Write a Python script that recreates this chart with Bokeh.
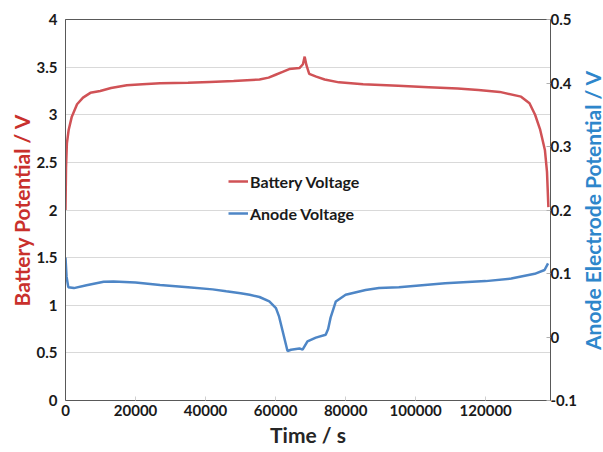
import math
from bokeh.plotting import figure
from bokeh.layouts import row
from bokeh.models import (LinearAxis, Range1d, FixedTicker, CustomJSTickFormatter,
                          Legend, LegendItem)
from bokeh.core.properties import value
from bokeh.embed import file_html
from bokeh.resources import INLINE

# ---- data ----
battery_t = [0, 150, 400, 900, 1800, 3300, 5000, 7100, 9900, 13000, 17500, 22000,
             27000, 35000, 41200, 48000, 55400, 58000, 60000, 62000, 63900, 66800,
             67800, 68300, 68800, 69600, 71600, 74000, 78100, 85000, 95000, 103700,
             112000, 117900, 124000, 130100, 132500, 134100, 135500, 136900, 137500,
             137900]
battery_v = [2.00, 2.45, 2.70, 2.84, 2.98, 3.11, 3.18, 3.23, 3.25, 3.28, 3.31, 3.32,
             3.33, 3.335, 3.345, 3.355, 3.37, 3.39, 3.42, 3.45, 3.48, 3.49,
             3.53, 3.61, 3.52, 3.43, 3.40, 3.37, 3.34, 3.32, 3.305, 3.29,
             3.275, 3.26, 3.24, 3.19, 3.12, 3.00, 2.85, 2.63, 2.40,
             2.03]

anode_t = [0, 300, 800, 2400, 6000, 10900, 13700, 20000, 27000, 35000, 42000, 45900,
           50000, 52600, 55400, 58200, 60100, 61000, 62000, 63400, 64400, 66800,
           67700, 69100, 71500, 74300, 75000, 75700, 77200, 80000, 85700, 89500,
           95200, 108400, 120000, 127300, 134000, 136800, 137800]
anode_v = [0.125, 0.095, 0.0785, 0.077, 0.0815, 0.087, 0.0875, 0.086, 0.082, 0.0785,
           0.075, 0.072, 0.069, 0.0665, 0.063, 0.056, 0.0455, 0.032, 0.0095, -0.022,
           -0.020, -0.018, -0.020, -0.007, -0.001, 0.0035, 0.0125, 0.0305, 0.056,
           0.0665, 0.074, 0.077, 0.0785, 0.0845, 0.088, 0.092, 0.0995, 0.1055, 0.116]

x_ticks = [0, 20000, 40000, 60000, 80000, 100000, 120000]
left_ticks = [0, 0.5, 1, 1.5, 2, 2.5, 3, 3.5, 4]
right_ticks = [-0.1, 0, 0.1, 0.2, 0.3, 0.4, 0.5]

X_MAX = 138500
RED = "#D05256"
BLUE = "#4E86C6"
LABEL_RED = "#C9302C"
LABEL_BLUE = "#2E86CB"
AXIS_COL = "#595959"
FONT = "Lato"
TICK_SIZE = "15px"
LABEL_SIZE = "21px"

fmt = CustomJSTickFormatter(code="return Number(tick.toFixed(2)).toString();")

p = figure(width=580, height=452, x_range=Range1d(0, X_MAX), y_range=Range1d(0, 4),
           output_backend="svg", toolbar_location=None,
           min_border_left=65, min_border_right=29, min_border_top=19, min_border_bottom=52)
p.extra_y_ranges = {"anode": Range1d(-0.1, 0.5)}

p.background_fill_color = "white"
p.border_fill_color = "white"
p.outline_line_color = AXIS_COL
p.outline_line_width = 1

p.xgrid.visible = False
p.ygrid.grid_line_color = "#D9D9D9"
p.ygrid.grid_line_width = 1
p.ygrid.ticker = FixedTicker(ticks=left_ticks)

r1 = p.line(battery_t, battery_v, line_color=RED, line_width=2.5)
r2 = p.line(anode_t, anode_v, line_color=BLUE, line_width=2.5, y_range_name="anode")

# bottom axis
xa = p.xaxis[0]
xa.ticker = FixedTicker(ticks=x_ticks)
xa.formatter = fmt
xa.axis_label = "Time / s"
xa.axis_label_text_font = FONT
xa.axis_label_text_font_style = "bold"
xa.axis_label_text_font_size = LABEL_SIZE
xa.axis_label_text_color = "#262626"
xa.axis_label_standoff = 3
xa.major_label_text_font = FONT
xa.major_label_text_font_style = "bold"
xa.major_label_text_font_size = TICK_SIZE
xa.major_label_text_color = "#1a1a1a"
xa.major_label_standoff = 4
xa.axis_line_color = AXIS_COL
xa.major_tick_in = 4
xa.major_tick_out = 0
xa.major_tick_line_color = "#D0D0D0"
xa.minor_tick_line_color = None

# left axis
ya = p.yaxis[0]
ya.ticker = FixedTicker(ticks=left_ticks)
ya.formatter = fmt
ya.axis_label = "Battery Potential / V"
ya.axis_label_text_font = FONT
ya.axis_label_text_font_style = "bold"
ya.axis_label_text_font_size = LABEL_SIZE
ya.axis_label_text_color = LABEL_RED
ya.axis_label_standoff = 0
ya.major_label_text_font = FONT
ya.major_label_text_font_style = "bold"
ya.major_label_text_font_size = TICK_SIZE
ya.major_label_text_color = "#1a1a1a"
ya.major_label_standoff = 8
ya.axis_line_color = AXIS_COL
ya.major_tick_in = 0
ya.major_tick_out = 0
ya.minor_tick_line_color = None

# right axis (ticks and numbers)
ra = LinearAxis(y_range_name="anode", ticker=FixedTicker(ticks=right_ticks), formatter=fmt)
ra.major_label_text_font = FONT
ra.major_label_text_font_style = "bold"
ra.major_label_text_font_size = TICK_SIZE
ra.major_label_text_color = "#1a1a1a"
ra.major_label_standoff = 0
ra.axis_line_color = AXIS_COL
ra.major_tick_in = 4
ra.major_tick_out = 0
ra.major_tick_line_color = "#B0B0B0"
ra.minor_tick_line_color = None
p.add_layout(ra, "right")

legend = Legend(items=[LegendItem(label="Battery Voltage", renderers=[r1]),
                       LegendItem(label="Anode Voltage", renderers=[r2])],
                location=(163, 177), orientation="vertical")
legend.background_fill_alpha = 0
legend.border_line_color = None
legend.padding = 0
legend.margin = 0
legend.spacing = 12
legend.glyph_width = 20
legend.glyph_height = 20
legend.label_height = 20
legend.label_standoff = 2
legend.label_text_font = FONT
legend.label_text_font_style = "bold"
legend.label_text_font_size = "16px"
legend.label_text_color = "#1a1a1a"
p.add_layout(legend, "center")

# narrow strip on the right carrying the right-axis title (reads bottom to top)
p2 = figure(width=23, height=452, x_range=Range1d(-1, 1), y_range=Range1d(0, 4),
            output_backend="svg", toolbar_location=None,
            min_border_left=0, min_border_right=0, min_border_top=19, min_border_bottom=52)
p2.axis.visible = False
p2.grid.visible = False
p2.outline_line_color = None
p2.background_fill_color = "white"
p2.border_fill_color = "white"
p2.text(x=[0], y=[2.0], text=["Anode Electrode Potential / V"], angle=math.pi / 2,
        text_align="center", text_baseline="middle", text_font=value(FONT),
        text_font_style="bold", text_font_size=value(LABEL_SIZE), text_color=LABEL_BLUE)

layout = row(p, p2, spacing=0)
open("out.html", "w").write(file_html(layout, INLINE))
